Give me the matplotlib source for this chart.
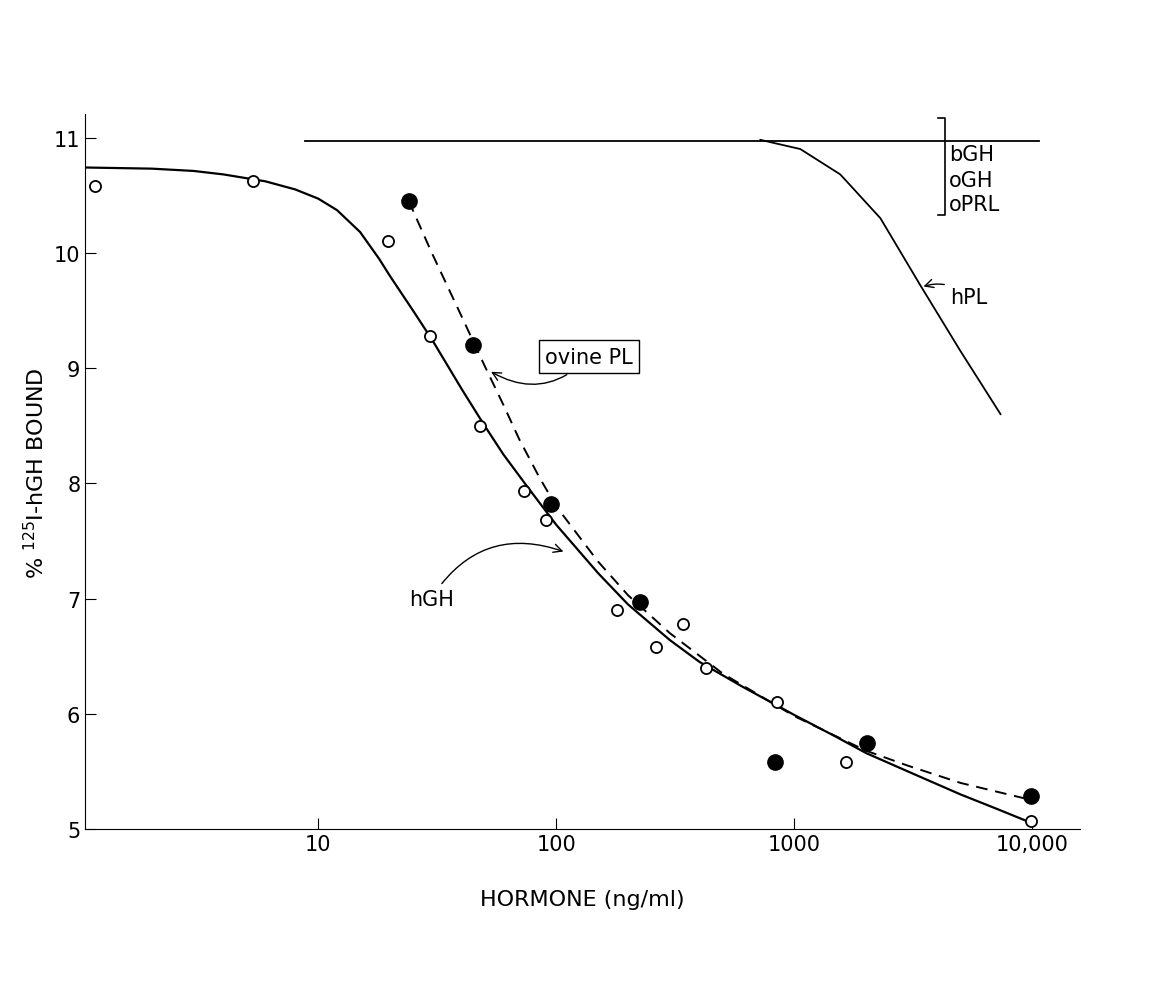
import numpy as np
import matplotlib
matplotlib.use('Agg')
import matplotlib.pyplot as plt
from matplotlib.ticker import FixedLocator, NullLocator

# hGH data (open circles)
hgh_x = [1.16, 5.3, 19.7, 29.5, 48, 73, 91, 180, 263, 340, 425, 850, 1650, 9900]
hgh_y = [10.58, 10.62, 10.1, 9.28, 8.5, 7.93, 7.68, 6.9, 6.58, 6.78, 6.4, 6.1, 5.58, 5.07]
# ovine PL data (filled circles)
opl_x = [24, 44.7, 95, 225, 830, 2030, 9900]
opl_y = [10.45, 9.2, 7.82, 6.97, 5.58, 5.75, 5.29]

# fitted curves
hgh_cx = [1.05, 2, 3, 4, 6, 8, 10, 12, 15, 18, 20, 25, 30, 35, 40, 50, 60, 75, 100, 150, 200,
          300, 400, 600, 1000, 1500, 2000, 3000, 5000, 7000, 10000]
hgh_cy = [10.74, 10.73, 10.71, 10.68, 10.62, 10.55, 10.47, 10.37, 10.18, 9.95, 9.8, 9.5, 9.25,
          9.02, 8.82, 8.5, 8.25, 7.98, 7.64, 7.22, 6.95, 6.64, 6.45, 6.24, 5.99, 5.8, 5.66, 5.5,
          5.3, 5.18, 5.05]
opl_cx = [24, 30, 40, 50, 60, 70, 85, 100, 150, 200, 300, 500, 1000, 2000, 3000, 5000, 10000]
opl_cy = [10.45, 10.0, 9.45, 9.02, 8.68, 8.38, 8.05, 7.8, 7.32, 7.03, 6.7, 6.35, 5.98, 5.68,
          5.55, 5.4, 5.25]
flat_x = [8.8, 10700]
flat_y = [10.97, 10.97]
hpl_x = [720, 1060, 1560, 2300, 3380, 4980, 7350]
hpl_y = [10.98, 10.9, 10.68, 10.3, 9.72, 9.15, 8.6]

fig = plt.figure(figsize=(11.51, 9.87), dpi=100)
ax = fig.add_axes([0.074, 0.159, 0.864, 0.724])
ax.set_xscale('log')
ax.set_xlim(1.05, 15800)
ax.set_ylim(5, 11.2)

ax.plot(hgh_cx, hgh_cy, color='black', lw=1.6)
ax.plot(opl_cx, opl_cy, color='black', lw=1.4, ls=(0, (6, 4)))
ax.plot(flat_x, flat_y, color='black', lw=1.3)
ax.plot(hpl_x, hpl_y, color='black', lw=1.3)
ax.plot(hgh_x, hgh_y, 'o', mfc='white', mec='black', ms=8, mew=1.3, zorder=3)
ax.plot(opl_x, opl_y, 'o', color='black', ms=11, zorder=3)

ax.spines['top'].set_visible(False)
ax.spines['right'].set_visible(False)
ax.xaxis.set_major_locator(FixedLocator([10, 100, 1000, 10000]))
ax.xaxis.set_minor_locator(NullLocator())
ax.set_xticklabels(['10', '100', '1000', '10,000'])
ax.set_yticks([5, 6, 7, 8, 9, 10, 11])
ax.tick_params(direction='in', length=8, labelsize=15)
ax.set_xlabel('HORMONE (ng/ml)', fontsize=16, labelpad=25)
ax.set_ylabel('% $^{125}$I-hGH BOUND', fontsize=16)

# labels on right
for t, y in [('bGH', 10.86), ('oGH', 10.63), ('oPRL', 10.42)]:
    ax.text(4450, y, t, fontsize=15, va='center', ha='left')
ax.plot([4000, 4300, 4300, 4000], [11.17, 11.17, 10.33, 10.33], color='black', lw=1.2)

ax.annotate('hPL', xy=(3400, 9.7), xytext=(4500, 9.62), fontsize=15, va='center',
            arrowprops=dict(arrowstyle='->', color='black', connectionstyle='arc3,rad=0.3'))
ax.annotate('ovine PL', xy=(52, 8.98), xytext=(90, 9.1), fontsize=15, va='center',
            bbox=dict(boxstyle='square,pad=0.3', fc='white', ec='black'),
            arrowprops=dict(arrowstyle='->', color='black', connectionstyle='arc3,rad=-0.4'))
ax.annotate('hGH', xy=(110, 7.4), xytext=(24, 7.0), fontsize=15, va='center',
            arrowprops=dict(arrowstyle='->', color='black', connectionstyle='arc3,rad=-0.4'))

fig.savefig('out.png', dpi=100)
